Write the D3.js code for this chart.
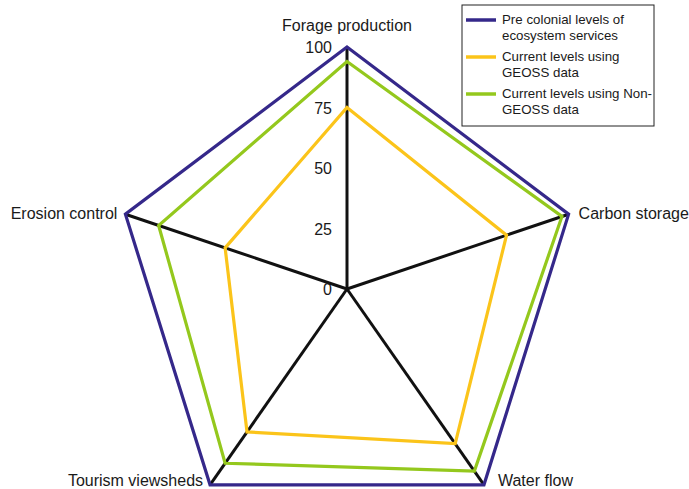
<!DOCTYPE html>
<html>
<head>
<meta charset="utf-8">
<script src="https://cdn.jsdelivr.net/npm/d3@7"></script>
<style>
  body { margin: 0; background: #fff; }
  text { font-family: "Liberation Sans", Arial, sans-serif; fill: #1a1a1a; }
</style>
</head>
<body>
<div id="chart"></div>
<script>
const axesNames = ["Forage production", "Carbon storage", "Water flow", "Tourism viewsheds", "Erosion control"];
const preColonial = [100, 100, 100, 100, 100];
const currentGeoss = [75, 72, 79, 73, 55];
const currentNonGeoss = [94, 97, 93, 89, 85];
const tickValues = [0, 25, 50, 75, 100];
const seriesNames = ["Pre colonial levels of\necosystem services", "Current levels using\nGEOSS data", "Current levels using Non-\nGEOSS data"];
const seriesColors = ["#35288a", "#fbc41a", "#94c81d"];

const width = 689;
const height = 489;
const cx = 347;
const cy = 289;
const rx = 233;
const ry = 242;

const svg = d3.select("#chart")
  .append("svg")
  .attr("width", width)
  .attr("height", height);

const r = d3.scaleLinear().domain([0, 100]).range([0, 1]);
const angle = (i) => i * 2 * Math.PI / axesNames.length;
const px = (i, v) => cx + Math.sin(angle(i)) * rx * r(v);
const py = (i, v) => cy - Math.cos(angle(i)) * ry * r(v);

// spokes
svg.selectAll("line.spoke")
  .data(axesNames)
  .enter()
  .append("line")
  .attr("x1", cx).attr("y1", cy)
  .attr("x2", (d, i) => px(i, 100))
  .attr("y2", (d, i) => py(i, 100))
  .attr("stroke", "#111")
  .attr("stroke-width", 3);

// series polygons
const line = d3.line()
  .x((d, i) => px(i, d))
  .y((d, i) => py(i, d))
  .curve(d3.curveLinearClosed);

const allSeries = [currentGeoss, currentNonGeoss, preColonial];
const allColors = [seriesColors[1], seriesColors[2], seriesColors[0]];
svg.selectAll("path.series")
  .data(allSeries)
  .enter()
  .append("path")
  .attr("d", (d) => line(d))
  .attr("fill", "none")
  .attr("stroke", (d, i) => allColors[i])
  .attr("stroke-width", 3.2)
  .attr("stroke-linejoin", "miter");

// tick labels
svg.selectAll("text.tick")
  .data(tickValues)
  .enter()
  .append("text")
  .attr("x", cx - 15)
  .attr("y", (d) => py(0, d) + 6)
  .attr("text-anchor", "end")
  .attr("font-size", 16)
  .text((d) => d);

// axis labels
const labelPos = [
  {dx: 0, dy: -16, anchor: "middle"},
  {dx: 10, dy: 5, anchor: "start"},
  {dx: 14, dy: 1, anchor: "start"},
  {dx: -7, dy: 1, anchor: "end"},
  {dx: -8, dy: 5, anchor: "end"}
];
svg.selectAll("text.axis")
  .data(axesNames)
  .enter()
  .append("text")
  .attr("x", (d, i) => px(i, 100) + labelPos[i].dx)
  .attr("y", (d, i) => py(i, 100) + labelPos[i].dy)
  .attr("text-anchor", (d, i) => labelPos[i].anchor)
  .attr("font-size", 16)
  .text((d) => d);

// legend
const legend = svg.append("g").attr("transform", "translate(462,5)");
legend.append("rect")
  .attr("width", 192).attr("height", 121)
  .attr("fill", "#fff").attr("stroke", "#222").attr("stroke-width", 1);
seriesNames.forEach((name, i) => {
  const y0 = 15 + i * 37;
  legend.append("line")
    .attr("x1", 4).attr("x2", 34)
    .attr("y1", y0).attr("y2", y0)
    .attr("stroke", seriesColors[i]).attr("stroke-width", 3.5);
  name.split("\n").forEach((t, j) => {
    legend.append("text")
      .attr("x", 40)
      .attr("y", y0 + 4 + j * 16)
      .attr("font-size", 13.3)
      .text(t);
  });
});
</script>
</body>
</html>
